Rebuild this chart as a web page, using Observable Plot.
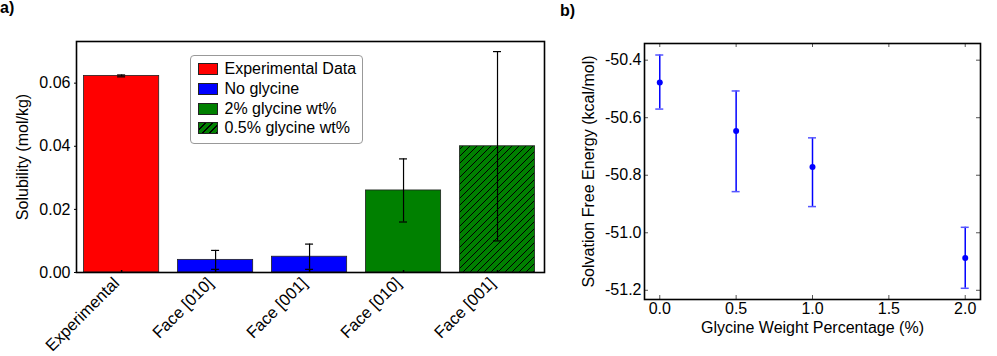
<!DOCTYPE html>
<html><head><meta charset="utf-8">
<script src="https://cdn.jsdelivr.net/npm/d3@7"></script>
<script src="https://cdn.jsdelivr.net/npm/@observablehq/plot@0.6"></script>
<style>
body{margin:0;background:#fff;}
#wrap{position:relative;width:997px;height:356px;font-family:"Liberation Sans",Arial,sans-serif;color:#000;overflow:hidden;}
.panel{position:absolute;top:0;}
.lab{position:absolute;font-weight:bold;font-size:16px;line-height:1;}
#legend{position:absolute;left:190px;top:55px;width:171px;height:83.5px;border:1px solid #999;border-radius:4px;background:#fff;font-size:16px;padding-top:3.5px;}
.row{display:flex;align-items:center;height:19.7px;white-space:nowrap;}
.sw{width:18px;height:10px;border:1px solid #222;margin-left:6.5px;margin-right:7px;flex:none;}
</style></head>
<body><div id="wrap"></div>
<script>
// ---- panel a) data ----
const categories = ["Experimental", "Face [010]", "Face [001]", "Face [010]", "Face [001]"];
const solubility = [0.0623, 0.004, 0.005, 0.026, 0.040];
const solubilityErr = [0.0003, 0.003, 0.004, 0.010, 0.030];
const barColors = ["#ff0000", "#0000ff", "#0000ff", "#008000", "#008000"];
const barHatched = [false, false, false, false, true];
const solTicks = [0, 0.02, 0.04, 0.06];
const legendLabels = ["Experimental Data", "No glycine", "2% glycine wt%", "0.5% glycine wt%"];
const legendColors = ["#ff0000", "#0000ff", "#008000", "#008000"];
const legendHatched = [false, false, false, true];

// ---- panel b) data ----
const glycine = [0.0, 0.5, 1.0, 2.0];
const energy = [-50.478, -50.646, -50.771, -51.088];
const energyErrLow = [0.092, 0.211, 0.138, 0.105];
const energyErrHigh = [0.096, 0.139, 0.101, 0.107];
const glyTicks = [0, 0.5, 1.0, 1.5, 2.0];
const energyTicks = [-51.2, -51.0, -50.8, -50.6, -50.4];

const font = "'Liberation Sans', Arial, sans-serif";
const wrap = document.getElementById("wrap");

// ---------- Panel a ----------
const bars = categories.map((c, i) => ({i, cat: c, v: solubility[i], e: solubilityErr[i], fill: barColors[i], hatched: barHatched[i]}));
const LH = 356, LT = 41, LB = 84, LW = 560, LL = 76, LR = 16;
const LinnerH = LH - LT - LB;
const HATCH_KEY = "#008001";

const svgA = Plot.plot({
  width: LW, height: LH, marginLeft: LL, marginRight: LR, marginTop: LT, marginBottom: LB,
  style: {fontFamily: font, fontSize: "16px", color: "#000", background: "transparent", overflow: "visible"},
  x: {type: "linear", domain: [-0.48, 4.5], axis: null},
  y: {domain: [0, 0.0732], axis: null},
  color: {type: "identity"},
  marks: [
    Plot.rect(bars.filter(d => !d.hatched), {x1: d => d.i - 0.4, x2: d => d.i + 0.4, y1: 0, y2: "v", fill: "fill", stroke: "#222", strokeWidth: 0.8}),
    Plot.rect(bars.filter(d => d.hatched), {x1: d => d.i - 0.4, x2: d => d.i + 0.4, y1: 0, y2: "v", fill: HATCH_KEY, stroke: "#222", strokeWidth: 0.8}),
    Plot.ruleX(bars, {x: "i", insetTop: LinnerH - 2, stroke: "#000", strokeWidth: 1.5}),
    Plot.ruleX(bars, {x: "i", y1: d => d.v - d.e, y2: d => d.v + d.e, stroke: "#000", strokeWidth: 1.2}),
    Plot.ruleY(bars, {x1: "i", x2: "i", y: d => d.v + d.e, insetLeft: -4, insetRight: -4, stroke: "#000", strokeWidth: 1.2}),
    Plot.ruleY(bars, {x1: "i", x2: "i", y: d => d.v - d.e, insetLeft: -4, insetRight: -4, stroke: "#000", strokeWidth: 1.2}),
    Plot.axisY({ticks: solTicks, tickSize: 2, tickPadding: 4, tickFormat: d3.format(".2f"), label: null, fontSize: 16}),
    Plot.text(bars, {x: "i", y: 0, text: "cat", rotate: -45, textAnchor: "end", lineAnchor: "middle", dx: -5, dy: 8, fontSize: 16.5}),
    Plot.text(["Solubility (mol/kg)"], {frameAnchor: "left", dx: -54, rotate: -90, textAnchor: "middle", lineAnchor: "middle", text: d => d, fontSize: 16}),
    Plot.frame({stroke: "#000", strokeWidth: 1.6})
  ]
});
d3.select(svgA).insert("defs", ":first-child").html(
  '<pattern id="hatch" patternUnits="userSpaceOnUse" width="7" height="7">' +
  '<rect width="7" height="7" fill="#008000"/>' +
  '<path d="M-1,1 l2,-2 M0,7 l7,-7 M6,8 l2,-2" stroke="#000" stroke-width="1"/></pattern>');
d3.select(svgA).selectAll("g, rect").filter(function () {
  return (this.getAttribute("fill") || "").toLowerCase() === HATCH_KEY;
}).attr("fill", "url(#hatch)");
svgA.classList.add("panel");
svgA.style.left = "0px";
wrap.appendChild(svgA);

// legend
const leg = document.createElement("div");
leg.id = "legend";
legendLabels.forEach((lab, k) => {
  const row = document.createElement("div");
  row.className = "row";
  const sw = document.createElement("div");
  sw.className = "sw";
  sw.style.background = legendHatched[k]
    ? `repeating-linear-gradient(135deg, ${legendColors[k]} 0 4px, #000 4px 5px)`
    : legendColors[k];
  const t = document.createElement("span");
  t.textContent = lab;
  row.appendChild(sw); row.appendChild(t);
  leg.appendChild(row);
});
wrap.appendChild(leg);

// ---------- Panel b ----------
const pts = glycine.map((g, i) => ({g, e: energy[i], lo: energy[i] - energyErrLow[i], hi: energy[i] + energyErrHigh[i]}));
const RW = 437, RH = 356, RL = 84, RR = 17, RT = 43, RB = 57;
const RinnerW = RW - RL - RR, RinnerH = RH - RT - RB;
const minusFmt = f => d => d3.format(f)(d).replace("\u2212", "-");

const svgB = Plot.plot({
  width: RW, height: RH, marginLeft: RL, marginRight: RR, marginTop: RT, marginBottom: RB,
  style: {fontFamily: font, fontSize: "16px", color: "#000", background: "transparent", overflow: "visible"},
  x: {domain: [-0.1, 2.1], axis: null},
  y: {domain: [-51.232, -50.342], axis: null},
  marks: [
    Plot.ruleX(glyTicks, {x: d => d, insetTop: RinnerH - 4, stroke: "#555"}),
    Plot.ruleX(glyTicks, {x: d => d, insetBottom: RinnerH - 4, stroke: "#555"}),
    Plot.ruleY(energyTicks, {y: d => d, insetRight: RinnerW - 4, stroke: "#555"}),
    Plot.ruleY(energyTicks, {y: d => d, insetLeft: RinnerW - 4, stroke: "#555"}),
    Plot.ruleX(pts, {x: "g", y1: "lo", y2: "hi", stroke: "#0000ff", strokeWidth: 1.5}),
    Plot.ruleY(pts, {x1: "g", x2: "g", y: "hi", insetLeft: -4, insetRight: -4, stroke: "#5555ff", strokeWidth: 1.5}),
    Plot.ruleY(pts, {x1: "g", x2: "g", y: "lo", insetLeft: -4, insetRight: -4, stroke: "#5555ff", strokeWidth: 1.5}),
    Plot.dot(pts, {x: "g", y: "e", r: 3, fill: "#0000ff", stroke: null}),
    Plot.axisY({ticks: energyTicks, tickSize: 0, tickPadding: 3, tickFormat: minusFmt(".1f"), label: null, fontSize: 16}),
    Plot.axisX({ticks: glyTicks, tickSize: 0, tickPadding: 3, tickFormat: d3.format(".1f"), label: null, fontSize: 16}),
    Plot.text(["Solvation Free Energy (kcal/mol)"], {frameAnchor: "left", dx: -56, rotate: -90, textAnchor: "middle", lineAnchor: "middle", text: d => d, fontSize: 16}),
    Plot.text(["Glycine Weight Percentage (%)"], {frameAnchor: "bottom", dy: 28, textAnchor: "middle", lineAnchor: "middle", text: d => d, fontSize: 16}),
    Plot.frame({stroke: "#000", strokeWidth: 1.6})
  ]
});
svgB.classList.add("panel");
svgB.style.left = "560px";
wrap.appendChild(svgB);

// panel letters
const la = document.createElement("div");
la.className = "lab"; la.textContent = "a)"; la.style.left = "0px"; la.style.top = "0px";
wrap.appendChild(la);
const lb = document.createElement("div");
lb.className = "lab"; lb.textContent = "b)"; lb.style.left = "560px"; lb.style.top = "3px";
wrap.appendChild(lb);
</script>
</body></html>
